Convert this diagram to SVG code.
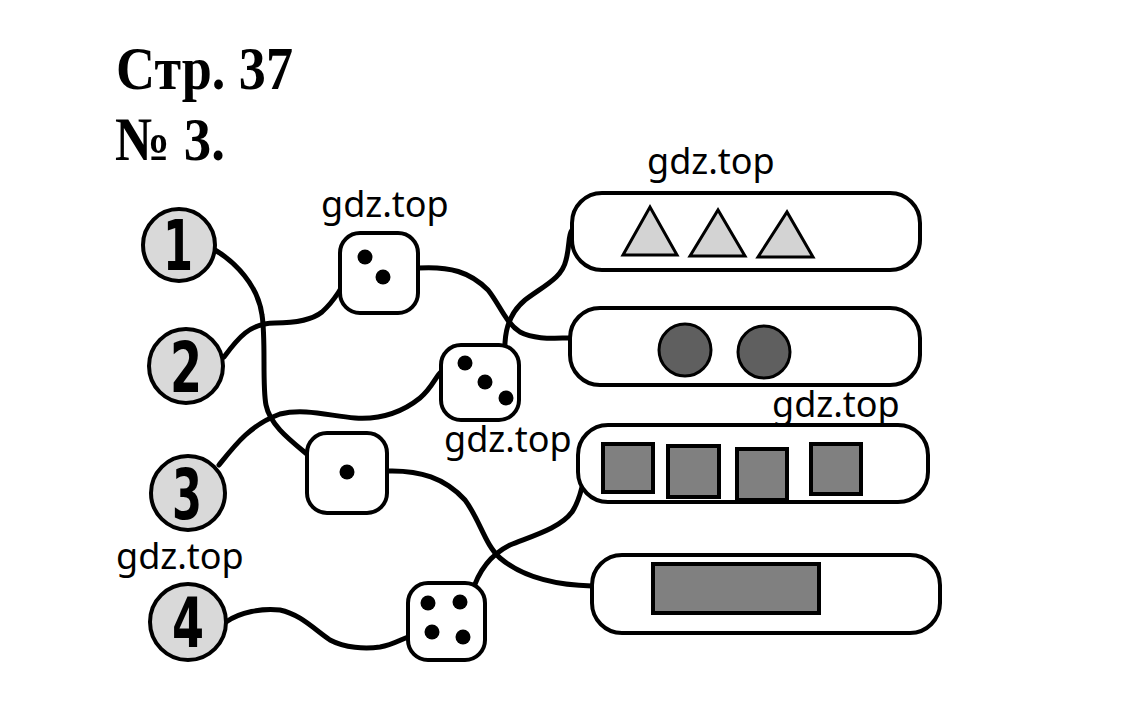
<svg xmlns="http://www.w3.org/2000/svg" width="1145" height="726" viewBox="0 0 1145 726">
<style>
.title{font-family:"Liberation Serif","Times New Roman",serif;font-weight:bold;font-size:62px;fill:#000}
.wm{font-family:"Noto Sans","Open Sans",sans-serif;font-size:36px;fill:#000}
.num{fill:#d9d9d9;stroke:#000;stroke-width:4}
.digit{font-family:"DejaVu Sans Condensed","DejaVu Sans",sans-serif;font-weight:bold;font-size:70px;fill:#000}
.die{fill:#fff;stroke:#000;stroke-width:4}
.pip{fill:#000}
.box{fill:#fff;stroke:#000;stroke-width:4}
.tri{fill:#d3d3d3;stroke:#000;stroke-width:3;stroke-linejoin:miter}
.disc{fill:#5f5f5f;stroke:#000;stroke-width:3}
.sq{fill:#808080;stroke:#000;stroke-width:4}
.wire{fill:none;stroke:#000;stroke-width:5;stroke-linecap:round;stroke-linejoin:round}
</style>
<rect width="1145" height="726" fill="#fff"/>
<text class="title" x="116" y="89" textLength="177" lengthAdjust="spacingAndGlyphs">Стр. 37</text>
<text class="title" x="115" y="160" textLength="110" lengthAdjust="spacingAndGlyphs">№ 3.</text>

<g id="connectors">
<path class="wire" d="M215,250 C235,262 258,285 262,315 C266,340 262,385 266,405 C270,425 290,440 308,455"/>
<path class="wire" d="M224,357 C238,338 250,323 275,323 C295,323 312,320 322,312 C332,303 336,296 340,290"/>
<path class="wire" d="M418,268 C450,266 470,272 488,290 C500,305 505,322 520,332 C535,340 555,338 570,338"/>
<path class="wire" d="M505,355 C504,335 507,315 525,300 C545,285 562,278 566,260 C570,245 568,235 572,230"/>
<path class="wire" d="M219,465 C235,445 250,425 280,414 C305,408 330,416 355,418 C385,420 405,410 420,398 C432,388 436,376 441,372"/>
<path class="wire" d="M387,471 C420,470 445,478 465,500 C480,520 485,545 500,558 C520,575 550,585 592,586"/>
<path class="wire" d="M472,593 C478,572 490,555 510,545 C535,535 560,528 572,512 C578,503 580,495 582,487"/>
<path class="wire" d="M226,622 C240,612 262,608 280,610 C300,614 315,630 330,640 C345,648 365,649 380,647 C392,645 400,640 408,637"/>
</g>

<g id="n1"><circle class="num" cx="179" cy="245" r="36"/><text class="digit" x="163" y="270" textLength="30" lengthAdjust="spacingAndGlyphs">1</text></g>
<g id="n2"><circle class="num" cx="186" cy="366" r="37"/><text class="digit" x="170" y="392" textLength="32" lengthAdjust="spacingAndGlyphs">2</text></g>
<g id="n3"><circle class="num" cx="188" cy="493" r="37"/><text class="digit" x="172" y="519" textLength="30" lengthAdjust="spacingAndGlyphs">3</text></g>
<g id="n4"><circle class="num" cx="188" cy="622" r="38"/><text class="digit" x="172" y="647" textLength="32" lengthAdjust="spacingAndGlyphs">4</text></g>

<g id="die2"><rect class="die" x="340" y="233" width="78" height="80" rx="20"/><circle class="pip" cx="365" cy="257" r="7.5"/><circle class="pip" cx="383" cy="277" r="7.5"/></g>
<g id="die3"><rect class="die" x="441" y="345" width="78" height="75" rx="20"/><circle class="pip" cx="465" cy="363" r="7.5"/><circle class="pip" cx="485" cy="382" r="7.5"/><circle class="pip" cx="506" cy="398" r="7.5"/></g>
<g id="die1"><rect class="die" x="307" y="433" width="80" height="80" rx="20"/><circle class="pip" cx="347" cy="472" r="7.5"/></g>
<g id="die4"><rect class="die" x="408" y="583" width="77" height="77" rx="20"/><circle class="pip" cx="428" cy="603" r="7.5"/><circle class="pip" cx="460" cy="602" r="7.5"/><circle class="pip" cx="432" cy="632" r="7.5"/><circle class="pip" cx="463" cy="637" r="7.5"/></g>

<g id="box1"><rect class="box" x="572" y="193" width="348" height="77" rx="30"/>
<polygon class="tri" points="623,255 650,207 677,255"/>
<polygon class="tri" points="690,256 718,210 745,256"/>
<polygon class="tri" points="758,257 787,212 813,257"/></g>
<g id="box2"><rect class="box" x="570" y="308" width="350" height="77" rx="30"/>
<circle class="disc" cx="685" cy="350" r="26"/><circle class="disc" cx="764" cy="352" r="26"/></g>
<g id="box3"><rect class="box" x="578" y="425" width="350" height="77" rx="30"/>
<rect class="sq" x="603" y="444" width="50" height="48"/>
<rect class="sq" x="668" y="446" width="51" height="51"/>
<rect class="sq" x="737" y="449" width="50" height="51"/>
<rect class="sq" x="811" y="444" width="50" height="50"/></g>
<g id="box4"><rect class="box" x="592" y="555" width="348" height="78" rx="30"/>
<rect class="sq" x="653" y="564" width="166" height="49"/></g>

<g id="watermarks">
<text class="wm" x="321" y="217">gdz.top</text>
<text class="wm" x="647" y="174">gdz.top</text>
<text class="wm" x="772" y="417">gdz.top</text>
<text class="wm" x="444" y="452">gdz.top</text>
<text class="wm" x="116" y="569">gdz.top</text>
</g>
</svg>
